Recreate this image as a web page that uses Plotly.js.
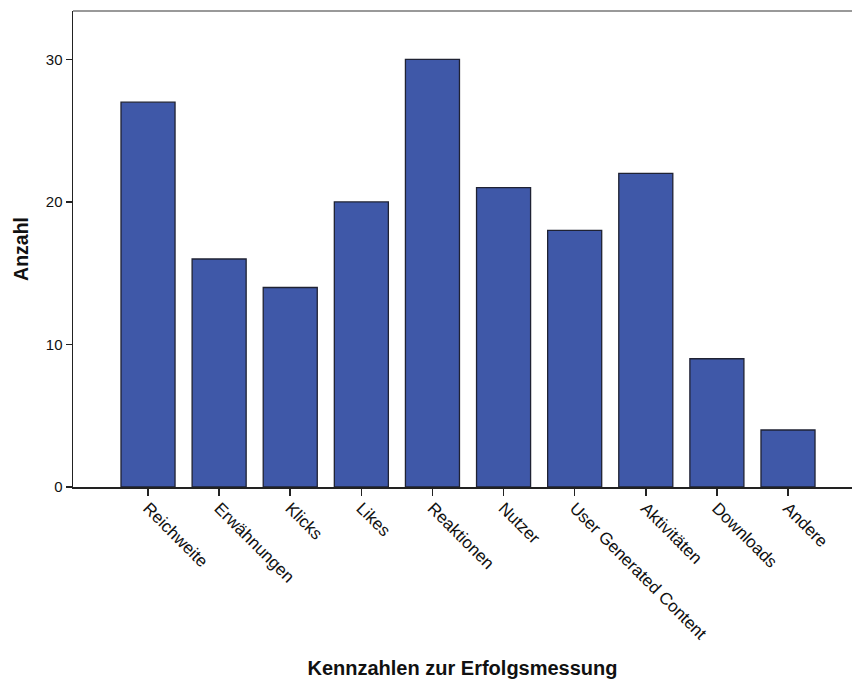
<!DOCTYPE html>
<html>
<head>
<meta charset="utf-8">
<script src="https://cdn.plot.ly/plotly-3.0.1.min.js"></script>
<style>html,body{margin:0;padding:0;background:#fff;}#chart{width:852px;height:682px;}</style>
</head>
<body>
<div id="chart"></div>
<script>
const categories = ["Reichweite","Erwähnungen","Klicks","Likes","Reaktionen","Nutzer","User Generated Content","Aktivitäten","Downloads","Andere"];
const counts = [27,16,14,20,30,21,18,22,9,4];
const yTicks = [0,10,20,30];

const trace = {
  type: 'bar',
  x: categories,
  y: counts,
  marker: {color: '#3f58a8', line: {color: '#1f2233', width: 1.3}},
  hoverinfo: 'x+y'
};

const layout = {
  width: 852, height: 682,
  margin: {l: 73, r: 0, t: 11, b: 195},
  paper_bgcolor: '#fff', plot_bgcolor: '#fff',
  bargap: 0.24,
  showlegend: false,
  font: {family: 'Liberation Sans, Arial, sans-serif', color: '#111'},
  xaxis: {
    type: 'category',
    range: [-1.055, 9.9],
    showgrid: false, zeroline: false,
    showline: true, linecolor: '#222', linewidth: 1.5,
    ticks: 'outside', ticklen: 7, tickwidth: 1.5, tickcolor: '#222',
    tickangle: 45,
    ticklabelstandoff: -4,
    tickfont: {size: 17, color: '#111'},
    title: {text: 'Kennzahlen zur Erfolgsmessung', font: {size: 20, color: '#111', weight: 'bold'}, standoff: 18}
  },
  yaxis: {
    range: [0, 33.4],
    tickvals: yTicks,
    showgrid: false, zeroline: false,
    showline: true, linecolor: '#222', linewidth: 1.5,
    ticks: 'outside', ticklen: 6, tickwidth: 1.5, tickcolor: '#222',
    tickfont: {size: 15, color: '#111'},
    title: {text: 'Anzahl', font: {size: 19.5, color: '#111', weight: 'bold'}, standoff: 12}
  },
  shapes: [{type: 'line', xref: 'paper', yref: 'paper', x0: 0, x1: 1, y0: 1, y1: 1, line: {color: '#999', width: 2}}]
};

Plotly.newPlot('chart', [trace], layout, {displayModeBar: false, staticPlot: true});
</script>
</body>
</html>
